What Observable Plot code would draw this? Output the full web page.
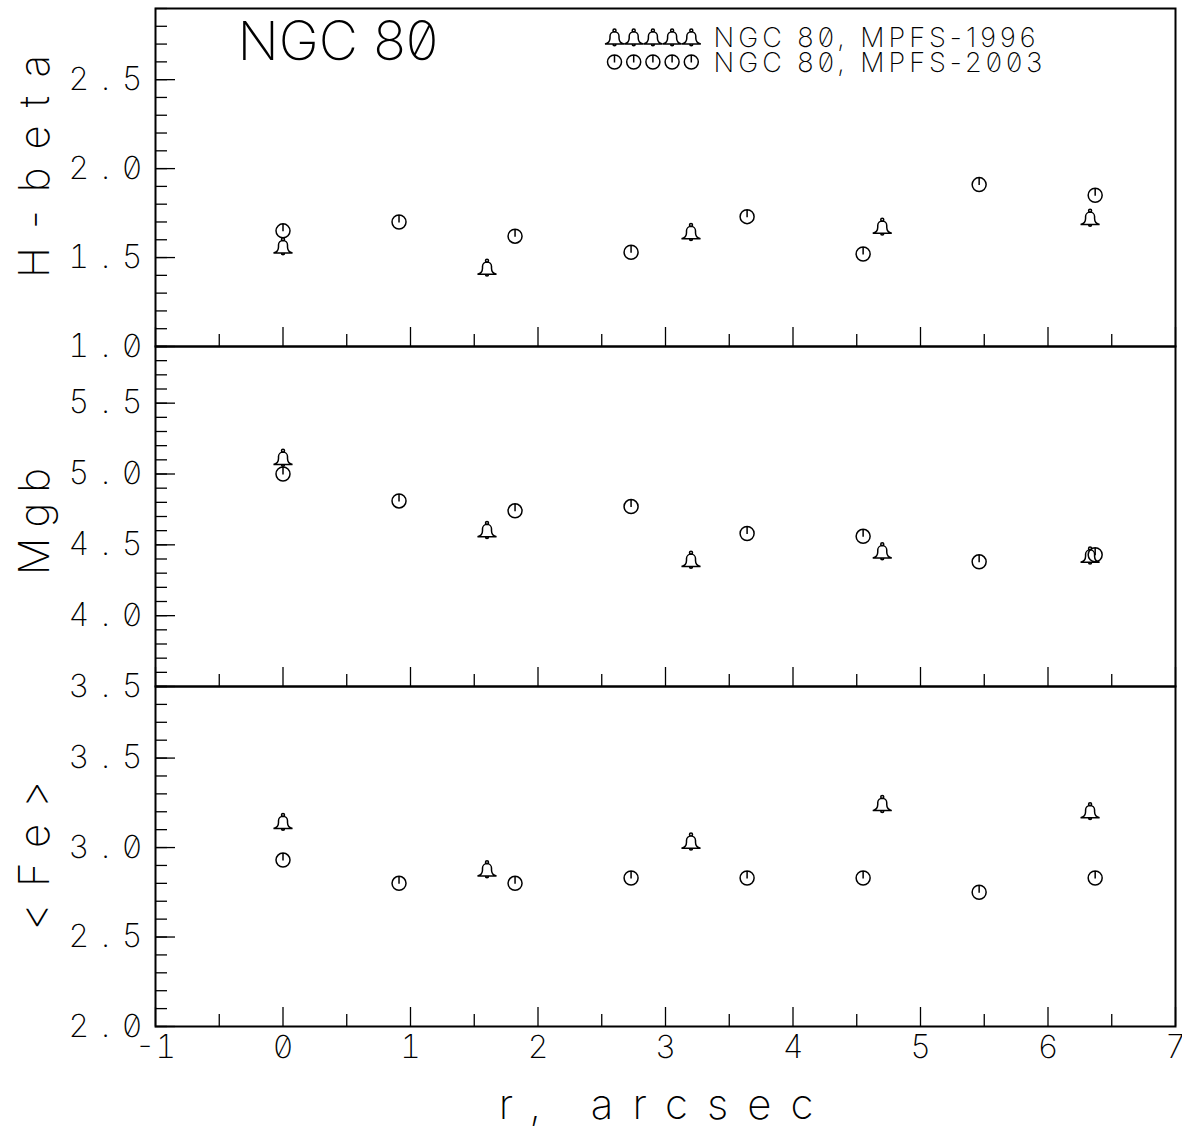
<!DOCTYPE html>
<html>
<head>
<meta charset="utf-8">
<script src="https://cdn.jsdelivr.net/npm/d3@7"></script>
<script src="https://cdn.jsdelivr.net/npm/@observablehq/plot@0.6"></script>
<style>
html, body { margin: 0; padding: 0; background: #fff; }
#chart { position: relative; width: 1182px; height: 1130px; }
#chart svg { display: block; overflow: visible; background: transparent !important; }
#chart svg text { font-family: Inter, "DejaVu Sans", sans-serif; font-weight: 200; font-feature-settings: "zero" 1; fill: #000; }
#chart g[aria-label="y-axis tick label"] text { letter-spacing: 12px; }
</style>
</head>
<body>
<div id="chart"></div>
<script>
// ---------------- data ----------------
const panelTitles = ["H-beta", "Mgb", "<Fe>"];
const seriesNames = ["NGC 80, MPFS-1996", "NGC 80, MPFS-2003"];
const plotTitle = "NGC 80";
const xTitle = "r, arcsec";

const r1996 = [0, 1.60, 3.20, 4.70, 6.33];
const hbeta1996 = [1.56, 1.44, 1.64, 1.67, 1.72];
const mgb1996 = [5.11, 4.60, 4.39, 4.45, 4.42];
const fe1996 = [3.14, 2.875, 3.03, 3.24, 3.20];

const r2003 = [0, 0.91, 1.82, 2.73, 3.64, 4.55, 5.46, 6.37];
const hbeta2003 = [1.65, 1.70, 1.62, 1.53, 1.73, 1.52, 1.91, 1.85];
const mgb2003 = [5.00, 4.81, 4.74, 4.77, 4.58, 4.56, 4.38, 4.43];
const fe2003 = [2.93, 2.80, 2.80, 2.83, 2.83, 2.83, 2.75, 2.83];

const xDomain = [-1, 7];
const xLabels = [-1, 0, 1, 2, 3, 4, 5, 6, 7];
const xMinor = [-0.5, 0.5, 1.5, 2.5, 3.5, 4.5, 5.5, 6.5];

const yDomains = [[1.0, 2.9], [3.5, 5.9], [2.0, 3.9]];
const yLabels = [
  [1.0, 1.5, 2.0, 2.5],
  [3.5, 4.0, 4.5, 5.0, 5.5],
  [2.0, 2.5, 3.0, 3.5]
];

// ---------------- symbols ----------------
const bell = {
  draw(ctx, size) {
    const k = Math.sqrt(size / Math.PI) / 10;
    ctx.moveTo(1.5 * k, -7.6 * k);
    ctx.arc(0, -7.6 * k, 1.5 * k, 0, 2 * Math.PI);
    ctx.moveTo(-9.5 * k, 6 * k);
    ctx.quadraticCurveTo(-4.5 * k, 4.8 * k, -4.5 * k, 0);
    ctx.lineTo(-4.5 * k, -1.8 * k);
    ctx.arc(0, -1.8 * k, 4.5 * k, Math.PI, 2 * Math.PI);
    ctx.lineTo(4.5 * k, 0);
    ctx.quadraticCurveTo(4.5 * k, 4.8 * k, 9.5 * k, 6 * k);
    ctx.closePath();
    ctx.moveTo(1.5 * k, 6.3 * k);
    ctx.arc(0, 6.3 * k, 1.5 * k, 0, Math.PI);
  }
};
const clock = {
  draw(ctx, size) {
    const k = Math.sqrt(size / Math.PI) / 10;
    const R = 7 * k;
    ctx.moveTo(R, 0);
    ctx.arc(0, 0, R, 0, 2 * Math.PI);
    ctx.moveTo(0, -R);
    ctx.lineTo(0, 0.5 * k);
  }
};

// ---------------- layout ----------------
const W = 1182, ML = 155, MR = 7;
const innerW = W - ML - MR;
const panelDefs = [
  {mt: 8, mb: 0, h: 346, v96: hbeta1996, v03: hbeta2003, tdy: -20},
  {mt: 0, mb: 0, h: 340, v96: mgb1996, v03: mgb2003, tdy: 0},
  {mt: 0, mb: 104, h: 444, v96: fe1996, v03: fe2003, tdy: -9}
];
const spacing = new Map([
  ["H-beta", "18px"], ["Mgb", "10px"], ["<Fe>", "16px"],
  [xTitle, "19px"], [seriesNames[0], "4px"], [seriesNames[1], "4px"]
]);

const zip = (xs, ys) => xs.map((x, i) => ({r: x, v: ys[i]}));
const root = document.getElementById("chart");

panelDefs.forEach((p, idx) => {
  const innerH = p.h - p.mt - p.mb;
  const dom = yDomains[idx];
  const yMinor = d3.range(Math.round(dom[0] * 10), Math.round(dom[1] * 10) + 1).map(i => i / 10);
  const marks = [
    Plot.ruleY(yMinor, {y: d => d, insetRight: innerW - 12, stroke: "black", strokeWidth: 1.3}),
    Plot.ruleY(yLabels[idx], {y: d => d, insetRight: innerW - 20, stroke: "black", strokeWidth: 1.3}),
    Plot.ruleX(xMinor, {x: d => d, insetTop: innerH - 12, stroke: "black", strokeWidth: 1.3}),
    Plot.ruleX(xLabels, {x: d => d, insetTop: innerH - 19, stroke: "black", strokeWidth: 1.3}),
    Plot.frame({stroke: "black", strokeWidth: 2}),
    Plot.axisY(yLabels[idx], {tickSize: 0, tickPadding: 1, tickFormat: d3.format(".1f"), fontSize: 32, label: null}),
    Plot.text([panelTitles[idx]], {frameAnchor: "left", dx: -120, dy: p.tdy, rotate: -90, fontSize: 42, textAnchor: "middle", lineAnchor: "middle"}),
    Plot.dot(zip(r1996, p.v96), {x: "r", y: "v", symbol: bell, r: 10, fill: "none", stroke: "black", strokeWidth: 1.5}),
    Plot.dot(zip(r2003, p.v03), {x: "r", y: "v", symbol: clock, r: 10, fill: "none", stroke: "black", strokeWidth: 1.5})
  ];
  if (idx === 0) {
    marks.push(Plot.text([plotTitle], {frameAnchor: "top-left", dx: 82, dy: 34, fontSize: 54, textAnchor: "start", lineAnchor: "middle"}));
    [bell, clock].forEach((sym, s) => {
      for (let i = 0; i < 5; i++) {
        marks.push(Plot.dot([seriesNames[s]], {frameAnchor: "top-left", dx: 459 + i * 19.2, dy: s === 0 ? 29.5 : 53.5, symbol: sym, r: 10, fill: "none", stroke: "black", strokeWidth: 1.5}));
      }
      marks.push(Plot.text([seriesNames[s]], {frameAnchor: "top-left", dx: 558, dy: s === 0 ? 30 : 55, fontSize: 27, textAnchor: "start", lineAnchor: "middle"}));
    });
  }
  if (idx === 2) {
    marks.push(Plot.axisX(xLabels, {tickSize: 0, tickPadding: 9, fontSize: 32, tickFormat: d => String(d), label: null}));
    marks.push(Plot.text([xTitle], {frameAnchor: "bottom", dy: 79, fontSize: 42, textAnchor: "middle", lineAnchor: "middle"}));
  }
  const chart = Plot.plot({
    width: W,
    height: p.h,
    marginLeft: ML,
    marginRight: MR,
    marginTop: p.mt,
    marginBottom: p.mb,
    style: {background: "transparent", overflow: "visible"},
    x: {domain: xDomain, axis: null},
    y: {domain: dom, axis: null},
    marks
  });
  d3.select(chart).selectAll("text").each(function () {
    const ls = spacing.get(this.textContent);
    if (ls) this.style.letterSpacing = ls;
  });
  root.appendChild(chart);
});
</script>
</body>
</html>
